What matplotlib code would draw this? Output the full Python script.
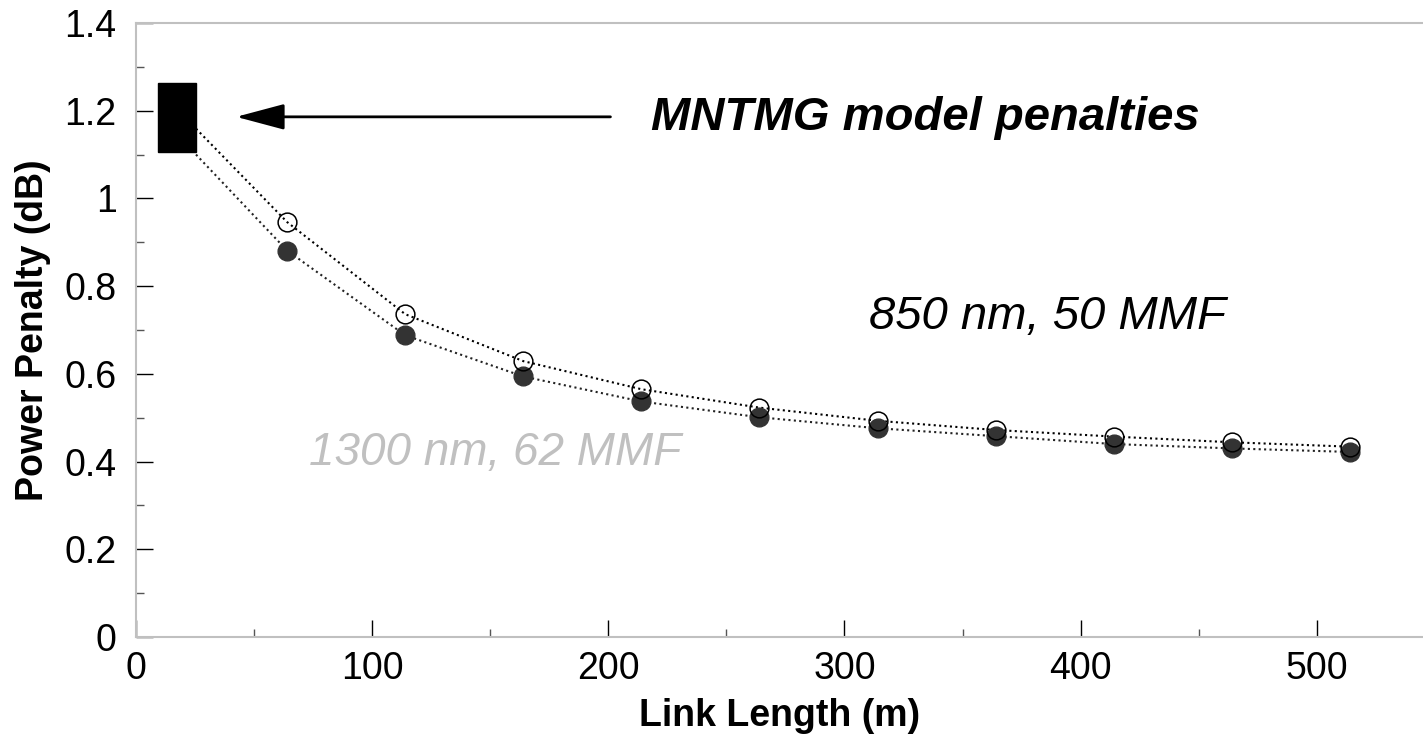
import numpy as np
import matplotlib.pyplot as plt
from matplotlib.patches import Rectangle
from matplotlib.ticker import MultipleLocator

plt.rcParams['font.family'] = ['Liberation Sans', 'DejaVu Sans']

# link length (m) and measured power penalty (dB)
length_m = [64, 114, 164, 214, 264, 314, 364, 414, 464, 514]
pen_850 = [0.946, 0.736, 0.629, 0.565, 0.523, 0.493, 0.472, 0.457, 0.444, 0.434]
pen_1300 = [0.881, 0.688, 0.594, 0.537, 0.501, 0.476, 0.458, 0.440, 0.430, 0.422]

# MNTMG model penalty band (x span, min/max penalty) and where each curve leaves it
model_x = [9.3, 25.4]
model_pen = [1.106, 1.263]
start_850 = 1.159
start_1300 = 1.100

fig = plt.figure(figsize=(14.23, 7.44), dpi=100)
ax = fig.add_axes([0.0956, 0.1438, 0.9044, 0.8253])

ax.add_patch(Rectangle((model_x[0], model_pen[0]), model_x[1] - model_x[0],
                       model_pen[1] - model_pen[0], color='black', zorder=3))

dots = (0, (1, 1.6))
ax.plot([model_x[1]] + length_m, [start_850] + pen_850, color='black',
        lw=1.5, ls=dots, zorder=2)
ax.plot([model_x[1]] + length_m, [start_1300] + pen_1300, color='#222222',
        lw=1.5, ls=dots, zorder=2)

ax.plot(length_m, pen_1300, 'o', ms=13.5, color='#333333', mec='#333333', zorder=4)
ax.plot(length_m, pen_850, 'o', ms=13.5, mfc='none', mec='black', mew=1.1, zorder=5)

ax.annotate('', xy=(42.4, 1.186), xytext=(200.9, 1.186),
            arrowprops=dict(arrowstyle='-|>,head_length=3.0,head_width=0.8',
                            color='black', lw=2, shrinkA=0, shrinkB=0))

ax.text(334.4, 1.156, 'MNTMG model penalties', ha='center', va='baseline',
        fontsize=34, fontweight='bold', fontstyle='italic')
ax.text(386.1, 0.702, '850 nm, 50 MMF', ha='center', va='baseline',
        fontsize=34, fontstyle='italic', color='black')
ax.text(152.2, 0.392, '1300 nm, 62 MMF', ha='center', va='baseline',
        fontsize=33, fontstyle='italic', color='#c0c0c0')

ax.set_xlim(0, 545)
ax.set_ylim(0, 1.4)
ax.xaxis.set_major_locator(MultipleLocator(100))
ax.xaxis.set_minor_locator(MultipleLocator(50))
ax.yaxis.set_major_locator(MultipleLocator(0.2))
ax.yaxis.set_minor_locator(MultipleLocator(0.1))
ax.set_yticks(np.arange(0, 1.41, 0.2))
ax.set_yticklabels(['0', '0.2', '0.4', '0.6', '0.8', '1', '1.2', '1.4'])

ax.tick_params(which='major', direction='in', length=12, width=1, color='black',
               labelsize=27, pad=10)
ax.tick_params(which='minor', direction='in', length=6, width=1, color='#555555')
ax.tick_params(axis='y', which='major', pad=14)

for side in ['left', 'bottom', 'top']:
    ax.spines[side].set_color('#c0c0c0')
    ax.spines[side].set_linewidth(1.5)
ax.spines['right'].set_visible(False)

ax.set_xlabel('Link Length (m)', fontsize=27, fontweight='bold', labelpad=8)
ax.set_ylabel('Power Penalty (dB)', fontsize=27, fontweight='bold', labelpad=10)

fig.savefig('out.png', dpi=100)
